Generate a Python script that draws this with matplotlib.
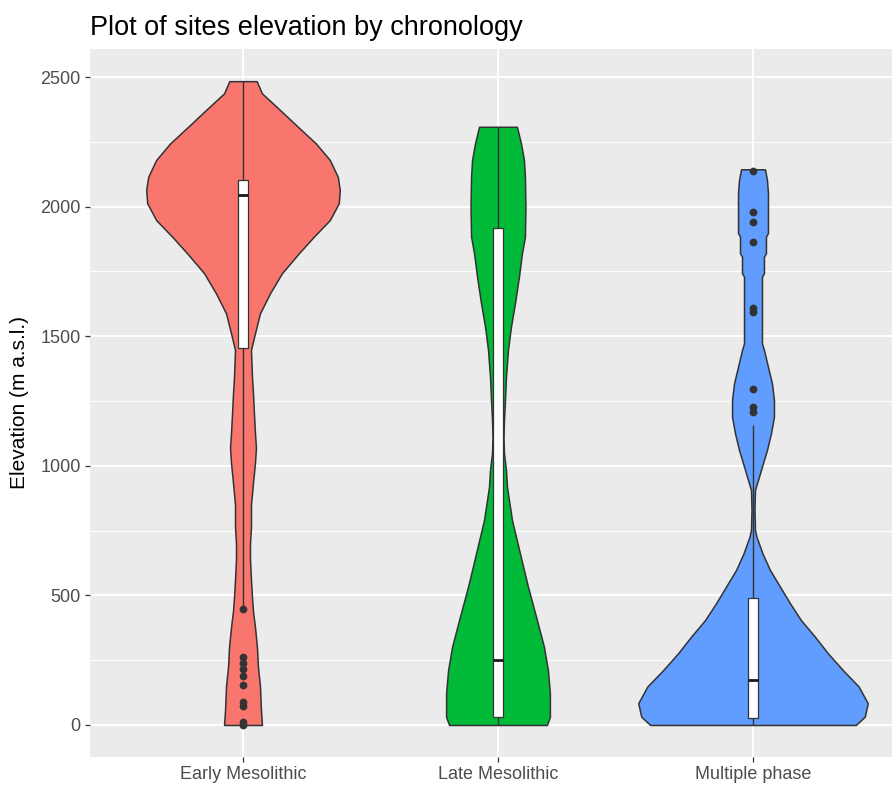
import numpy as np
import matplotlib
matplotlib.use("Agg")
import matplotlib.pyplot as plt

# ---------------- data ----------------
categories = ["Early Mesolithic", "Late Mesolithic", "Multiple phase"]
colors = ["#F8766D", "#00BA38", "#619CFF"]

# violin outlines: elevation levels and relative half-width (fraction of widest violin)
early_elev = [0, 58, 150, 224, 300, 378, 440, 494, 560, 640, 700, 764, 850, 934, 1011,
              1070, 1127, 1200, 1280, 1344, 1447, 1511, 1588, 1665, 1743, 1820, 1884,
              1948, 2013, 2064, 2115, 2180, 2244, 2308, 2373, 2437, 2484]
early_dens = [19, 18, 17, 15, 14, 12, 10, 9, 8, 7, 7, 8, 8, 10, 12,
              13, 12, 11, 10, 9, 8, 12, 17, 27, 39, 56, 71,
              87, 96, 97, 95, 87, 73, 55, 37, 19, 13.7]

late_elev = [0, 31, 123, 212, 302, 405, 534, 662, 791, 919, 984, 1049, 1110, 1177, 1254,
             1344, 1447, 1537, 1627, 1730, 1820, 1884, 2000, 2115, 2180, 2244, 2308]
late_dens = [49, 52, 52, 50, 46, 39, 30, 22, 14, 9, 8, 6, 5.5, 6, 7,
             8, 10, 13, 17, 21, 24, 27, 27.5, 27, 26, 23, 19]

multi_elev = [0, 32, 84, 148, 212, 277, 341, 405, 470, 534, 598, 662, 726, 752, 830,
              907, 945, 997, 1061, 1125, 1189, 1254, 1318, 1382, 1447, 1472, 1600,
              1730, 1743, 1807, 1820, 1884, 1898, 2052, 2103, 2144]
multi_dens = [103, 112, 115, 106, 90, 75, 62, 48, 37, 27, 17, 9.5, 3.5, 2, 1.5,
              2, 5, 9, 14, 18, 21, 21, 19, 15, 11, 9, 9,
              9, 11, 11, 13, 13, 15, 15, 14, 12]

# box statistics: lower whisker, q1, median, q3, upper whisker
early_box = [460, 1454, 2044, 2104, 2484]
late_box = [0, 32, 251, 1916, 2308]
multi_box = [0, 26, 174, 491, 1157]

# outliers
early_out = [446, 262, 238, 215, 190, 155, 87, 73, 10, 0]
late_out = []
multi_out = [2139, 1980, 1939, 1863, 1607, 1595, 1298, 1226, 1209]

title = "Plot of sites elevation by chronology"
ylabel = "Elevation (m a.s.l.)"
yticks = [0, 500, 1000, 1500, 2000, 2500]

# ---------------- plot ----------------
plt.rcParams['font.family'] = ['Liberation Sans', 'DejaVu Sans']

W, H = 892, 787
fig = plt.figure(figsize=(W / 100, H / 100), dpi=100)
left, right, top, bottom = 90, 892, 48.5, 757.2
ax = fig.add_axes([left / W, 1 - bottom / H, (right - left) / W, (bottom - top) / H])
ax.set_facecolor("#EBEBEB")
for s in ax.spines.values():
    s.set_visible(False)

elevs = [early_elev, late_elev, multi_elev]
denss = [early_dens, late_dens, multi_dens]
boxes = [early_box, late_box, multi_box]
outs = [early_out, late_out, multi_out]

dmax = max(max(d) for d in denss)
half_max = 0.45
box_half = 0.018
dark = "#333333"

for i, (e, d, b, o, c) in enumerate(zip(elevs, denss, boxes, outs, colors)):
    x0 = i + 1
    e = np.asarray(e, float)
    hw = np.asarray(d, float) / dmax * half_max
    ax.fill_betweenx(e, x0 - hw, x0 + hw, facecolor=c, edgecolor=dark, linewidth=1.1, zorder=3)
    lw_, q1, med, q3, uw = b
    ax.plot([x0, x0], [q3, uw], color=dark, lw=1.0, zorder=4, solid_capstyle='butt')
    ax.plot([x0, x0], [lw_, q1], color=dark, lw=1.0, zorder=4, solid_capstyle='butt')
    ax.add_patch(plt.Rectangle((x0 - box_half, q1), 2 * box_half, q3 - q1,
                               facecolor="white", edgecolor=dark, linewidth=0.9, zorder=5))
    ax.plot([x0 - box_half, x0 + box_half], [med, med], color="#1a1a1a", lw=2.0, zorder=6,
            solid_capstyle='butt')
    if o:
        ax.plot([x0] * len(o), o, 'o', color=dark, markersize=5.6, markeredgewidth=0, zorder=7)

ax.set_xlim(0.4, 3 + (892 - 753) / 255)
ax.set_ylim(-124.3, 2610)
ax.set_xticks([1, 2, 3])
ax.set_xticklabels(categories)
ax.set_yticks(yticks)
ax.set_yticks([250, 750, 1250, 1750, 2250], minor=True)
ax.grid(True, which='major', color='white', linewidth=1.4, zorder=0)
ax.grid(True, which='minor', axis='y', color='white', linewidth=0.7, zorder=0)
ax.set_axisbelow(True)
ax.tick_params(axis='both', which='major', length=3.6, width=0.9, color=dark,
               labelcolor="#4D4D4D", labelsize=13, pad=3)
ax.tick_params(axis='both', which='minor', length=0)

ax.set_ylabel(ylabel, fontsize=15, color="black", va='center')
ax.yaxis.set_label_coords((20 - left) / (right - left), 0.5)

fig.text(left / W, 1 - 35 / H, title, fontsize=19.5, color="black", ha='left', va='baseline')

fig.savefig("out.png", dpi=100, facecolor="white")
